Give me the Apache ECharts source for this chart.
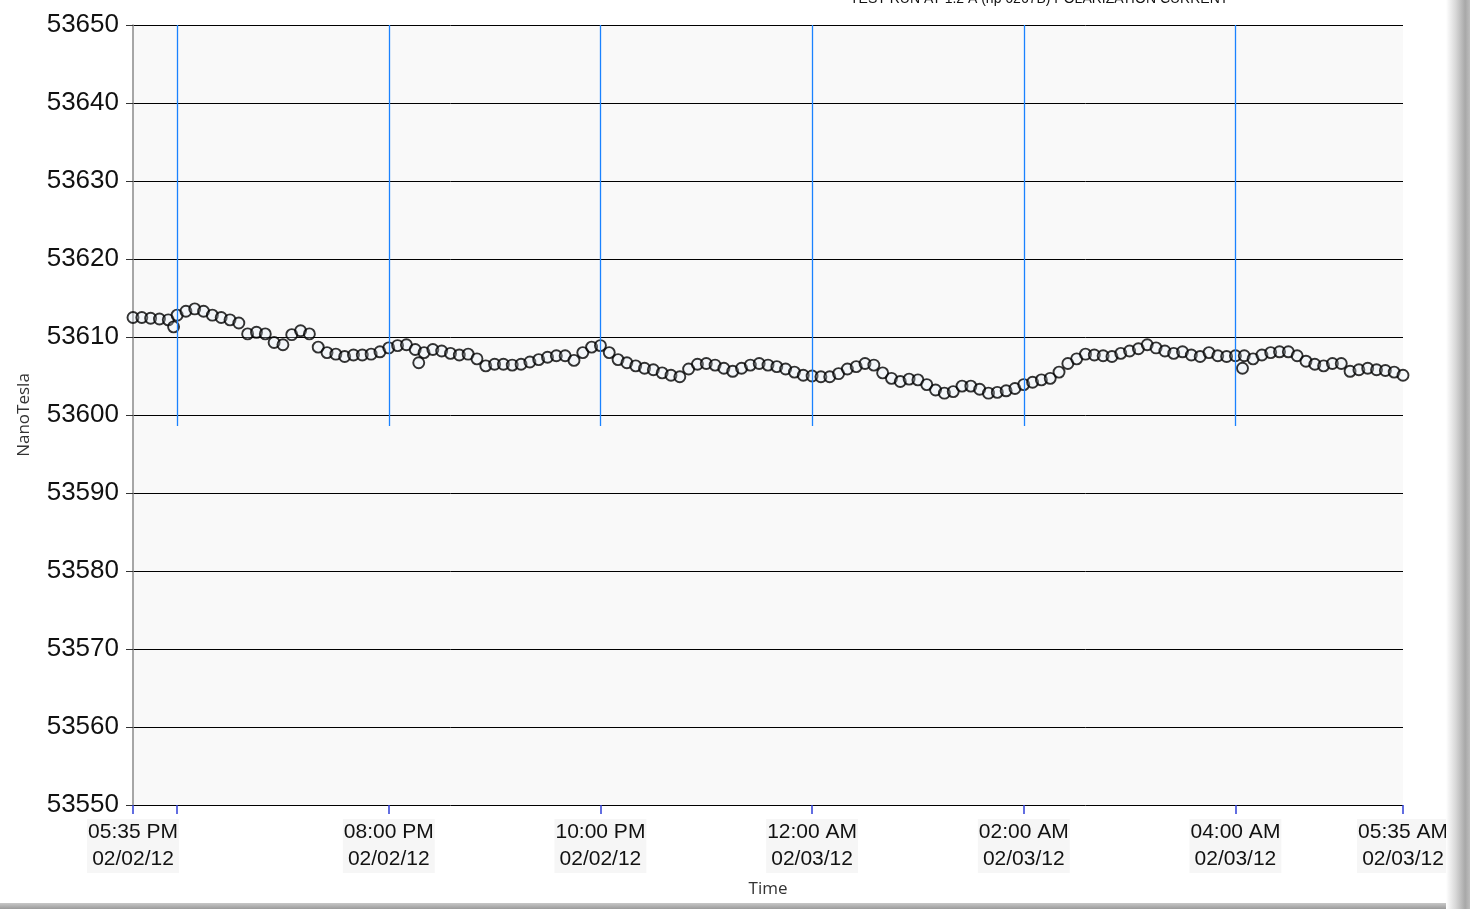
<!DOCTYPE html>
<html>
<head>
<meta charset="utf-8">
<script src="https://cdn.jsdelivr.net/npm/echarts@6/dist/echarts.min.js"></script>
<style>
html,body{margin:0;padding:0;background:#fff;}
#chart{width:1470px;height:909px;}
</style>
</head>
<body>
<div id="chart"></div>
<script>
// Time axis: minutes after 05:35 PM 02/02/12
var startMinute = 0;
var stepMinutes = 5;
// NanoTesla readings every 5 minutes
var nanoTesla = [
53612.5,53612.5,53612.4,53612.3,53612.2,53612.8,53613.3,53613.6,53613.3,53612.8,
53612.5,53612.2,53611.8,53610.4,53610.6,53610.4,53609.3,53609.0,53610.3,53610.8,
53610.4,53608.7,53608.0,53607.8,53607.5,53607.7,53607.7,53607.8,53608.1,53608.6,
53608.9,53609.0,53608.4,53608.0,53608.4,53608.2,53607.9,53607.7,53607.8,53607.2,
53606.3,53606.5,53606.5,53606.4,53606.5,53606.8,53607.1,53607.4,53607.6,53607.6,
53607.0,53608.0,53608.7,53608.9,53608.0,53607.1,53606.7,53606.3,53606.0,53605.8,
53605.4,53605.1,53604.9,53605.9,53606.5,53606.6,53606.4,53606.0,53605.6,53606.0,
53606.4,53606.6,53606.4,53606.2,53605.9,53605.5,53605.1,53605.0,53604.9,53604.9,
53605.3,53605.9,53606.2,53606.6,53606.4,53605.4,53604.7,53604.3,53604.6,53604.5,
53603.9,53603.2,53602.8,53603.0,53603.7,53603.7,53603.3,53602.8,53602.9,53603.1,
53603.4,53603.9,53604.2,53604.5,53604.7,53605.5,53606.6,53607.2,53607.8,53607.7,
53607.6,53607.5,53607.9,53608.2,53608.5,53609.0,53608.6,53608.2,53607.9,53608.1,
53607.7,53607.5,53608.0,53607.6,53607.5,53607.6,53607.6,53607.2,53607.7,53608.0,
53608.1,53608.1,53607.6,53606.9,53606.5,53606.3,53606.6,53606.6,53605.6,53605.8,
53606.0,53605.8,53605.7,53605.5,53605.1
];
// isolated readings away from the band
var outlierMinutes = [23, 162, 629];
var outlierValues = [53611.3, 53606.7, 53606.0];

// axis ticks and labels
var tickMinutes = [0, 25, 145, 265, 385, 505, 625, 720];
var labelMinutes = [0, 145, 265, 385, 505, 625, 720];
var labelTimes = ['05:35 PM','08:00 PM','10:00 PM','12:00 AM','02:00 AM','04:00 AM','05:35 AM'];
var labelDates = ['02/02/12','02/02/12','02/02/12','02/03/12','02/03/12','02/03/12','02/03/12'];
// blue vertical grid lines (6 PM ... 4 AM)
var gridMinutes = [25, 145, 265, 385, 505, 625];
var gridLineTop = 53650;
var gridLineBottom = 53598.6;

var points = nanoTesla.map(function (v, i) { return [startMinute + i * stepMinutes, v]; });
outlierMinutes.forEach(function (m, i) { points.push([m, outlierValues[i]]); });

var chart = echarts.init(document.getElementById('chart'), null, {renderer: 'canvas'});
chart.setOption({
  animation: false,
  backgroundColor: '#ffffff',
  graphic: [
    {type: 'text', left: 850, top: -8, style: {text: 'TEST RUN AT 1.2 A (hp 6267B) POLARIZATION CURRENT', font: '14px "Liberation Sans", Arial', fill: '#111'}},
    {type: 'rect', shape: {x: 1446, y: 0, width: 24, height: 909}, style: {fill: new echarts.graphic.LinearGradient(0, 0, 1, 0, [{offset: 0, color: '#ffffff'}, {offset: 0.4, color: '#d8d8d8'}, {offset: 0.8, color: '#a8a8a8'}, {offset: 1, color: '#bdbdbd'}])}, z: 10},
    {type: 'rect', shape: {x: 0, y: 903, width: 1446, height: 6}, style: {fill: new echarts.graphic.LinearGradient(0, 0, 0, 1, [{offset: 0, color: '#c8c8c8'}, {offset: 1, color: '#9a9a9a'}])}, z: 10}
  ],
  grid: {left: 133, right: 67, top: 25, bottom: 104, show: true, backgroundColor: '#f9f9f9', borderWidth: 0},
  xAxis: {
    type: 'value', min: 0, max: 720,
    name: 'Time', nameLocation: 'middle', nameGap: 76,
    nameTextStyle: {fontFamily: '"Open Sans", "Noto Sans", sans-serif', fontSize: 17, color: '#333'},
    axisLine: {show: false},
    axisTick: {show: true, length: 9, lineStyle: {color: '#2f3fd8', width: 1.5}, customValues: tickMinutes},
    splitLine: {show: false},
    axisLabel: {
      customValues: labelMinutes,
      margin: 14,
      fontFamily: '"Liberation Sans", Arial, sans-serif', fontSize: 21, color: '#111', lineHeight: 27,
      backgroundColor: '#f6f6f6', padding: [0, 1],
      formatter: function (v) { var i = labelMinutes.indexOf(Math.round(v)); return i < 0 ? '' : labelTimes[i] + '\n' + labelDates[i]; }
    }
  },
  yAxis: {
    type: 'value', min: 53550, max: 53650, interval: 10,
    name: 'NanoTesla', nameLocation: 'middle', nameGap: 100,
    nameTextStyle: {fontFamily: '"Open Sans", "Noto Sans", sans-serif', fontSize: 17, color: '#333'},
    axisLine: {show: true, lineStyle: {color: '#8a8a8a', width: 1.5}},
    axisTick: {show: true, length: 7, lineStyle: {color: '#333'}},
    splitLine: {show: true, lineStyle: {color: '#000', width: 1}},
    axisLabel: {margin: 14, fontFamily: '"Liberation Sans", Arial, sans-serif', fontSize: 26, color: '#111',
      formatter: function (v) { return String(v); }}
  },
  series: [{
    type: 'scatter',
    data: points,
    symbol: 'circle', symbolSize: 11,
    itemStyle: {color: 'rgba(225,240,250,0.3)', borderColor: '#000', borderWidth: 1.9},
    markLine: {
      silent: true, symbol: 'none', label: {show: false},
      lineStyle: {color: '#1a82ff', width: 1.3, type: 'solid', opacity: 1},
      data: gridMinutes.map(function (m) { return [{coord: [m, gridLineTop]}, {coord: [m, gridLineBottom]}]; })
    }
  }]
});
</script>
</body>
</html>
